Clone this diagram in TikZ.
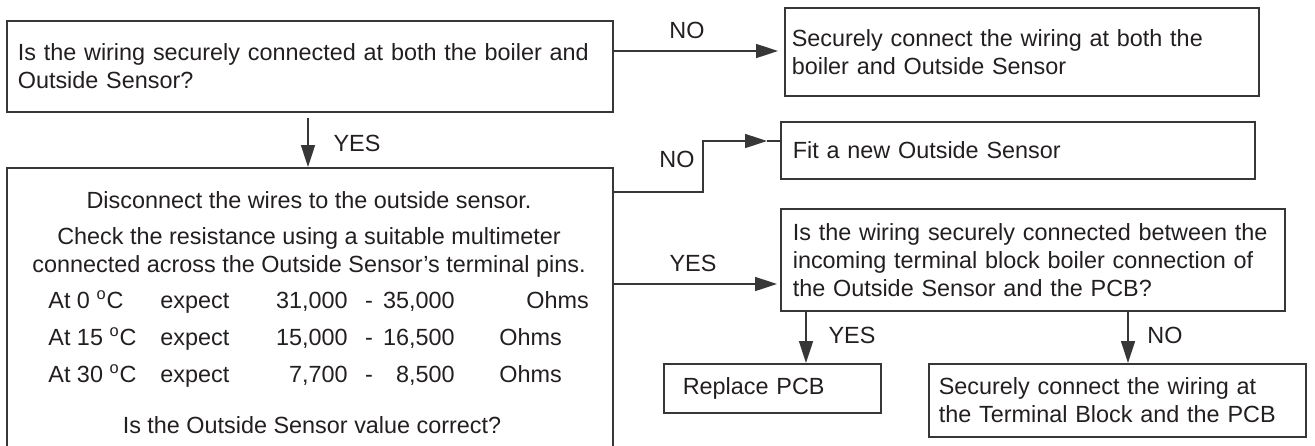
\documentclass[tikz,border=0pt]{standalone}
\usepackage{fontspec}
\setmainfont{Liberation Sans}
\usetikzlibrary{arrows.meta,calc}
\definecolor{ink}{RGB}{35,31,32}
\definecolor{wire}{RGB}{55,55,55}
\begin{document}
\begin{tikzpicture}[x=0.5pt,y=-0.5pt,
  font=\fontsize{11.7pt}{14pt}\selectfont,
  box/.style={draw=wire,line width=0.8pt,rectangle,inner ysep=0pt,align=left,text=ink,anchor=north west},
  arr/.style={draw=wire,line width=0.8pt,-{Triangle[length=11pt,width=7pt]}},
  wline/.style={draw=wire,line width=0.8pt},
  lab/.style={text=ink,inner sep=0pt},
  txt/.style={text=ink,inner sep=0pt}]
\useasboundingbox (0,0) rectangle (1315,445);
\clip (0,0) rectangle (1315,445);
% boxes
\node[box,minimum width=303pt,minimum height=45.5pt,inner xsep=5.5pt,text width=292pt] (b1) at (6,20)
  {Is the wiring securely connected at both the boiler and\\Outside Sensor?};
\node[box,minimum width=237pt,minimum height=44pt,inner xsep=3.5pt,text width=230pt] (b2) at (784,7)
  {Securely connect the wiring at both the\\boiler and Outside Sensor};
\node[box,minimum width=303pt,minimum height=151.5pt] (b3) at (6,167) {};
\node[box,minimum width=237pt,minimum height=28.5pt,inner xsep=6pt,text width=225pt] (b4) at (780,121)
  {Fit a new Outside Sensor};
\node[box,minimum width=252pt,minimum height=51pt,inner xsep=6pt,text width=240pt] (b5) at (780,208)
  {Is the wiring securely connected between the\\incoming terminal block boiler connection of\\the Outside Sensor and the PCB?};
\node[box,minimum width=108.5pt,minimum height=24.5pt,inner xsep=9.5pt,text width=89.5pt] (b6) at (663,363)
  {Replace PCB};
\node[box,minimum width=188.5pt,minimum height=36.5pt,inner xsep=5pt,text width=178.5pt] (b7) at (928,363)
  {Securely connect the wiring at\\the Terminal Block and the PCB};
% box 3 contents
\node[txt,anchor=base] (t1) at (309,208) {Disconnect the wires to the outside sensor.};
\node[txt,anchor=base] (t2) at (309,244.5) {Check the resistance using a suitable multimeter};
\node[txt,anchor=base] (t3) at (309,272.5) {connected across the Outside Sensor’s terminal pins.};
\node[txt,anchor=base west] (r1a) at (48,308.5) {At 0 \textsuperscript{o}C};
\node[txt,anchor=base west] (r1b) at (160,308.5) {expect};
\node[txt,anchor=base east] (r1c) at (348,308.5) {31,000};
\node[txt,anchor=base] (r1d) at (369,308.5) {-};
\node[txt,anchor=base east] (r1e) at (455,308.5) {35,000};
\node[txt,anchor=base west] (r1f) at (526,308.5) {Ohms};
\node[txt,anchor=base west] (r2a) at (48,345.5) {At 15 \textsuperscript{o}C};
\node[txt,anchor=base west] (r2b) at (160,345.5) {expect};
\node[txt,anchor=base east] (r2c) at (348,345.5) {15,000};
\node[txt,anchor=base] (r2d) at (369,345.5) {-};
\node[txt,anchor=base east] (r2e) at (455,345.5) {16,500};
\node[txt,anchor=base west] (r2f) at (499,345.5) {Ohms};
\node[txt,anchor=base west] (r3a) at (48,382.5) {At 30 \textsuperscript{o}C};
\node[txt,anchor=base west] (r3b) at (160,382.5) {expect};
\node[txt,anchor=base east] (r3c) at (348,382.5) {7,700};
\node[txt,anchor=base] (r3d) at (369,382.5) {-};
\node[txt,anchor=base east] (r3e) at (455,382.5) {8,500};
\node[txt,anchor=base west] (r3f) at (499,382.5) {Ohms};
\node[txt,anchor=base] (t4) at (312,433.5) {Is the Outside Sensor value correct?};
% connectors
\draw[arr,shorten >=3pt] (b1.east |- 0,51) -- (b2.west |- 0,51);
\node[lab] (l1) at (687,30) {NO};
\coordinate (y1s) at (308,118);
\draw[arr] (y1s) -- (b3.north -| y1s);
\node[lab] (l2) at (357,143) {YES};
\coordinate (n2c) at (703,192);
\coordinate (n2tip) at (767,141);
\draw[arr] (b3.east |- n2c) -- (n2c) |- (n2tip);
\draw[wline] (n2tip) -- (b4.west |- n2tip);
\node[lab] (l3) at (677,159) {NO};
\draw[arr,shorten >=1.5pt] (b3.east |- 0,284) -- (b5.west |- 0,284);
\node[lab] (l4) at (693,263) {YES};
\coordinate (y3) at (806,300);
\draw[arr] (b5.south -| y3) -- (b6.north -| y3);
\node[lab] (l5) at (852,335) {YES};
\coordinate (n3) at (1128,300);
\draw[arr] (b5.south -| n3) -- (b7.north -| n3);
\node[lab] (l6) at (1165,335) {NO};
\end{tikzpicture}
\end{document}
